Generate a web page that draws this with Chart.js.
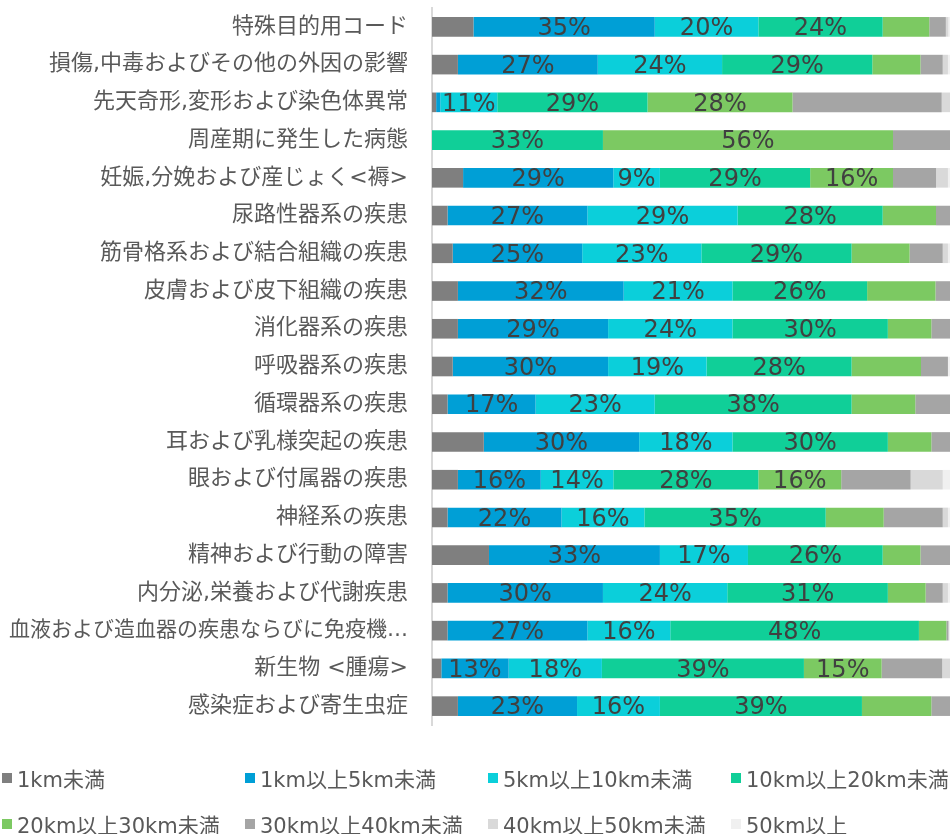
<!DOCTYPE html>
<html lang="ja">
<head>
<meta charset="utf-8">
<title>疾病分類別 距離構成比</title>
<script src="https://cdn.jsdelivr.net/npm/chart.js@4/dist/chart.umd.min.js"></script>
<style>
  body { margin: 0; background: #fff; }
  #wrap { position: relative; width: 950px; height: 834px; }
  #legend { position: absolute; left: 0; top: 0; width: 950px; height: 834px; pointer-events: none; }
  .item { position: absolute; display: flex; align-items: center; font: 21px "DejaVu Sans", "Noto Sans CJK JP", sans-serif; color: #595959; white-space: nowrap; }
  .box { width: 10px; height: 10px; margin-right: 5px; }
</style>
</head>
<body>
<div id="wrap">
  <canvas id="chart" width="950" height="734"></canvas>
  <div id="legend"></div>
</div>
<script>
var categories = [
  "特殊目的用コード",
  "損傷,中毒およびその他の外因の影響",
  "先天奇形,変形および染色体異常",
  "周産期に発生した病態",
  "妊娠,分娩および産じょく<褥>",
  "尿路性器系の疾患",
  "筋骨格系および結合組織の疾患",
  "皮膚および皮下組織の疾患",
  "消化器系の疾患",
  "呼吸器系の疾患",
  "循環器系の疾患",
  "耳および乳様突起の疾患",
  "眼および付属器の疾患",
  "神経系の疾患",
  "精神および行動の障害",
  "内分泌,栄養および代謝疾患",
  "血液および造血器の疾患ならびに免疫機…",
  "新生物 <腫瘍>",
  "感染症および寄生虫症"
];

var seriesNames = ["1km未満", "1km以上5km未満", "5km以上10km未満", "10km以上20km未満",
  "20km以上30km未満", "30km以上40km未満", "40km以上50km未満", "50km以上"];

// 構成比 (%)
var under1km  = [8.0, 5.0, 0.8, 0, 6.0, 3.0, 4.0, 5.0, 5.0, 4.0, 3.0, 10.0, 5.0, 3.0, 11.0, 3.0, 3.0, 1.8, 5.0];
var km1to5    = [35, 27, 0.8, 0, 29, 27, 25, 32, 29, 30, 17, 30, 16, 22, 33, 30, 27, 13, 23];
var km5to10   = [20, 24, 11, 0, 9, 29, 23, 21, 24, 19, 23, 18, 14, 16, 17, 24, 16, 18, 16];
var km10to20  = [24, 29, 29, 33, 29, 28, 29, 26, 30, 28, 38, 30, 28, 35, 26, 31, 48, 39, 39];
var km20to30  = [9.0, 9.3, 28, 56, 16, 10.3, 11.2, 13.2, 8.4, 13.4, 12.3, 8.4, 16, 11.2, 7.3, 7.3, 5.3, 15, 13.4];
var km30to40  = [3.2, 4.3, 28.8, 11, 8.3, 2.7, 6.4, 2.8, 3.6, 5.2, 6.7, 3.6, 13.4, 11.4, 5.7, 3.3, 0.4, 11.7, 3.6];
var km40to50  = [0.5, 1.0, 1.6, 0, 2.3, 0, 1.0, 0, 0, 0, 0, 0, 6.2, 1.0, 0, 1.0, 0.1, 1.5, 0];
var over50km  = [0.3, 0.4, 0, 0, 0.4, 0, 0.4, 0, 0, 0.4, 0, 0, 1.4, 0.4, 0, 0.4, 0.2, 0, 0];

var colors = ["#7F7F7F", "#009FD6", "#0BCFDA", "#10CF98", "#7CC962", "#A5A5A5", "#D9D9D9", "#F0F0F0"];
// smallest value that gets a % label, per series (null = never)
var labelMin = [null, 9, 9, 9, 14, null, null, null];

var allSeries = [under1km, km1to5, km5to10, km10to20, km20to30, km30to40, km40to50, over50km];

var datasets = allSeries.map(function (vals, i) {
  return {
    label: seriesNames[i],
    data: vals,
    backgroundColor: colors[i],
    borderWidth: 0,
    categoryPercentage: 1,
    barPercentage: 0.52
  };
});

// draws the % text in the middle of each segment
var segmentLabels = {
  id: 'segmentLabels',
  afterDatasetsDraw: function (chart) {
    var ctx = chart.ctx;
    ctx.save();
    ctx.font = '24px "DejaVu Sans", sans-serif';
    ctx.fillStyle = '#404040';
    ctx.textAlign = 'center';
    ctx.textBaseline = 'middle';
    chart.data.datasets.forEach(function (ds, di) {
      if (labelMin[di] === null) return;
      var meta = chart.getDatasetMeta(di);
      meta.data.forEach(function (bar, i) {
        var v = ds.data[i];
        if (v < labelMin[di]) return;
        var cx = (bar.x + bar.base) / 2;
        ctx.fillText(Math.round(v) + '%', cx, bar.y + 2);
      });
    });
    ctx.restore();
  }
};

var labelFont = '"DejaVu Sans", "Noto Sans CJK JP", sans-serif';

var chart = new Chart(document.getElementById('chart'), {
  type: 'bar',
  data: { labels: categories, datasets: datasets },
  options: {
    indexAxis: 'y',
    responsive: false,
    animation: false,
    layout: { padding: { top: 8, bottom: 9, left: 0, right: 0 } },
    plugins: {
      legend: { display: false },
      tooltip: { enabled: false }
    },
    scales: {
      x: {
        stacked: true,
        min: 0,
        max: 100,
        display: false
      },
      y: {
        stacked: true,
        afterFit: function (scale) {
          scale.width = 432;
          scale.paddingTop = 0;
          scale.paddingBottom = 0;
        },
        grid: { display: false, drawTicks: false },
        border: { display: true, color: '#D9D9D9', width: 2 },
        ticks: {
          autoSkip: false,
          padding: 24,
          color: '#595959',
          // the long truncated label is set a touch smaller so it fits
          font: function (ctx) {
            var long = categories[ctx.index] && categories[ctx.index].length > 18;
            return { family: labelFont, size: long ? 21 : 22 };
          }
        }
      }
    }
  },
  plugins: [segmentLabels]
});

// legend: 4 columns x 2 rows under the chart
var legend = document.getElementById('legend');
seriesNames.forEach(function (name, i) {
  var item = document.createElement('div');
  item.className = 'item';
  item.style.left = (2 + (i % 4) * 243) + 'px';
  item.style.top = (763 + Math.floor(i / 4) * 46) + 'px';
  var box = document.createElement('span');
  box.className = 'box';
  box.style.background = colors[i];
  item.appendChild(box);
  item.appendChild(document.createTextNode(name));
  legend.appendChild(item);
});
</script>
</body>
</html>
